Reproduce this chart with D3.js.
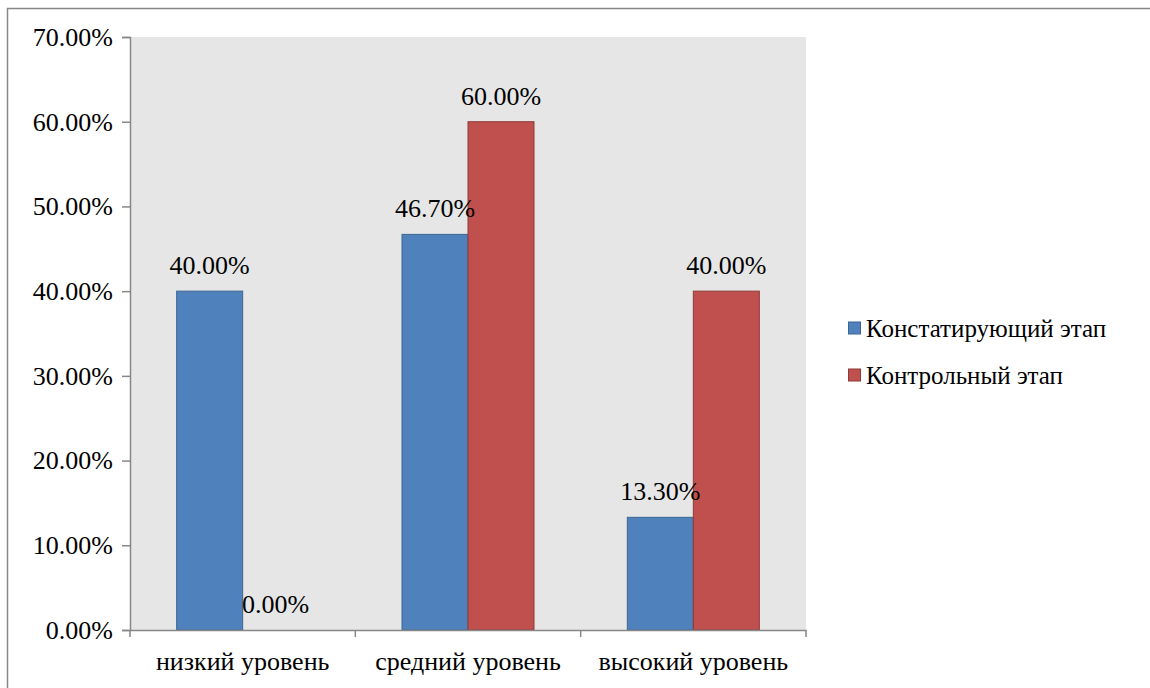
<!DOCTYPE html>
<html>
<head>
<meta charset="utf-8">
<script src="https://cdn.jsdelivr.net/npm/d3@7"></script>
<style>
  html, body { margin: 0; padding: 0; background: #fff; }
  svg { display: block; }
  .lbl { font-family: "Liberation Serif"; fill: #000; }
</style>
</head>
<body>
<svg id="chart" width="1150" height="688"></svg>
<script>
// Уровни и значения по этапам (доли)
const categories = ["низкий уровень", "средний уровень", "высокий уровень"];
const seriesNames = ["Констатирующий этап", "Контрольный этап"];
const stageAscertaining = [0.40, 0.467, 0.133];
const stageControl = [0.00, 0.60, 0.40];
const yTicks = [0, 0.1, 0.2, 0.3, 0.4, 0.5, 0.6, 0.7];
const seriesColors = ["#4f81bd", "#c0504d"];
const seriesStroke = ["#3b6593", "#8e3a38"];

const FS = 26;

const svg = d3.select("#chart");
const margin = { left: 130, top: 37, right: 806, bottom: 630 };

// outer frame
svg.append("rect")
  .attr("x", 7.5).attr("y", 8.5)
  .attr("width", 1160).attr("height", 700)
  .attr("fill", "#fff").attr("stroke", "#878787").attr("stroke-width", 1.5);

const x0 = d3.scaleBand().domain(categories).range([margin.left, margin.right]).paddingInner(0).paddingOuter(0);
const x1 = d3.scaleBand().domain(seriesNames).range([0, x0.bandwidth()]).paddingInner(0).paddingOuter(0.707);
const y = d3.scaleLinear().domain([0, 0.7]).range([margin.bottom, margin.top]);

// plot background
svg.append("rect")
  .attr("x", margin.left).attr("y", margin.top)
  .attr("width", margin.right - margin.left).attr("height", margin.bottom - margin.top)
  .attr("fill", "#e6e6e6");

const fmt = d3.format(".2%");

const data = categories.map((c, i) => ({
  cat: c,
  vals: [stageAscertaining[i], stageControl[i]]
}));

const groups = svg.append("g").selectAll("g").data(data).join("g")
  .attr("transform", d => `translate(${x0(d.cat)},0)`);

// bars
groups.selectAll("rect").data(d => d.vals.map((v, j) => ({ v, s: seriesNames[j], j })))
  .join("rect")
  .attr("x", d => x1(d.s))
  .attr("y", d => y(d.v))
  .attr("width", x1.bandwidth())
  .attr("height", d => y(0) - y(d.v))
  .attr("fill", d => seriesColors[d.j])
  .attr("stroke", d => d.v > 0 ? seriesStroke[d.j] : "none")
  .attr("stroke-width", 1);

// value labels
groups.selectAll("text").data(d => d.vals.map((v, j) => ({ v, s: seriesNames[j], j })))
  .join("text")
  .attr("class", "lbl")
  .attr("font-family", "Liberation Serif")
  .attr("font-size", FS)
  .attr("x", d => x1(d.s) + x1.bandwidth() / 2)
  .attr("y", d => y(d.v) - 17)
  .attr("text-anchor", "middle")
  .text(d => fmt(d.v));

// y axis
const yAxis = d3.axisLeft(y).tickValues(yTicks).tickFormat(fmt).tickSize(8).tickPadding(9);
const gy = svg.append("g").attr("transform", `translate(${margin.left},0)`).call(yAxis)
  .attr("font-family", "Liberation Serif").attr("font-size", FS);
gy.select(".domain").attr("stroke", "#878787").attr("stroke-width", 1.5);
gy.selectAll(".tick line").attr("stroke", "#878787").attr("stroke-width", 1.5);
gy.selectAll(".tick text").attr("class", "lbl");

// x axis
const xAxis = d3.axisBottom(x0).tickSize(0).tickPadding(22);
const gx = svg.append("g").attr("transform", `translate(0,${margin.bottom})`).call(xAxis)
  .attr("font-family", "Liberation Serif").attr("font-size", FS);
gx.select(".domain").attr("stroke", "#878787").attr("stroke-width", 1.5);
gx.selectAll(".tick text").attr("class", "lbl");
// category boundary ticks
const bounds = categories.map(c => x0(c)).concat([margin.right]);
gx.selectAll(".bound").data(bounds).join("line")
  .attr("class", "bound")
  .attr("x1", d => d).attr("x2", d => d)
  .attr("y1", 0).attr("y2", 7)
  .attr("stroke", "#878787").attr("stroke-width", 1.5);

// legend
const legend = svg.append("g").attr("transform", "translate(848,0)");
const legendY = [328, 375];
seriesNames.forEach((name, i) => {
  legend.append("rect")
    .attr("x", 0.5).attr("y", legendY[i] - 6)
    .attr("width", 12).attr("height", 12)
    .attr("fill", seriesColors[i]).attr("stroke", seriesStroke[i]);
  legend.append("text")
    .attr("class", "lbl")
    .attr("font-family", "Liberation Serif")
    .attr("font-size", FS - 1)
    .attr("x", 18).attr("y", legendY[i])
    .attr("dy", "0.35em")
    .text(name);
});
</script>
</body>
</html>
